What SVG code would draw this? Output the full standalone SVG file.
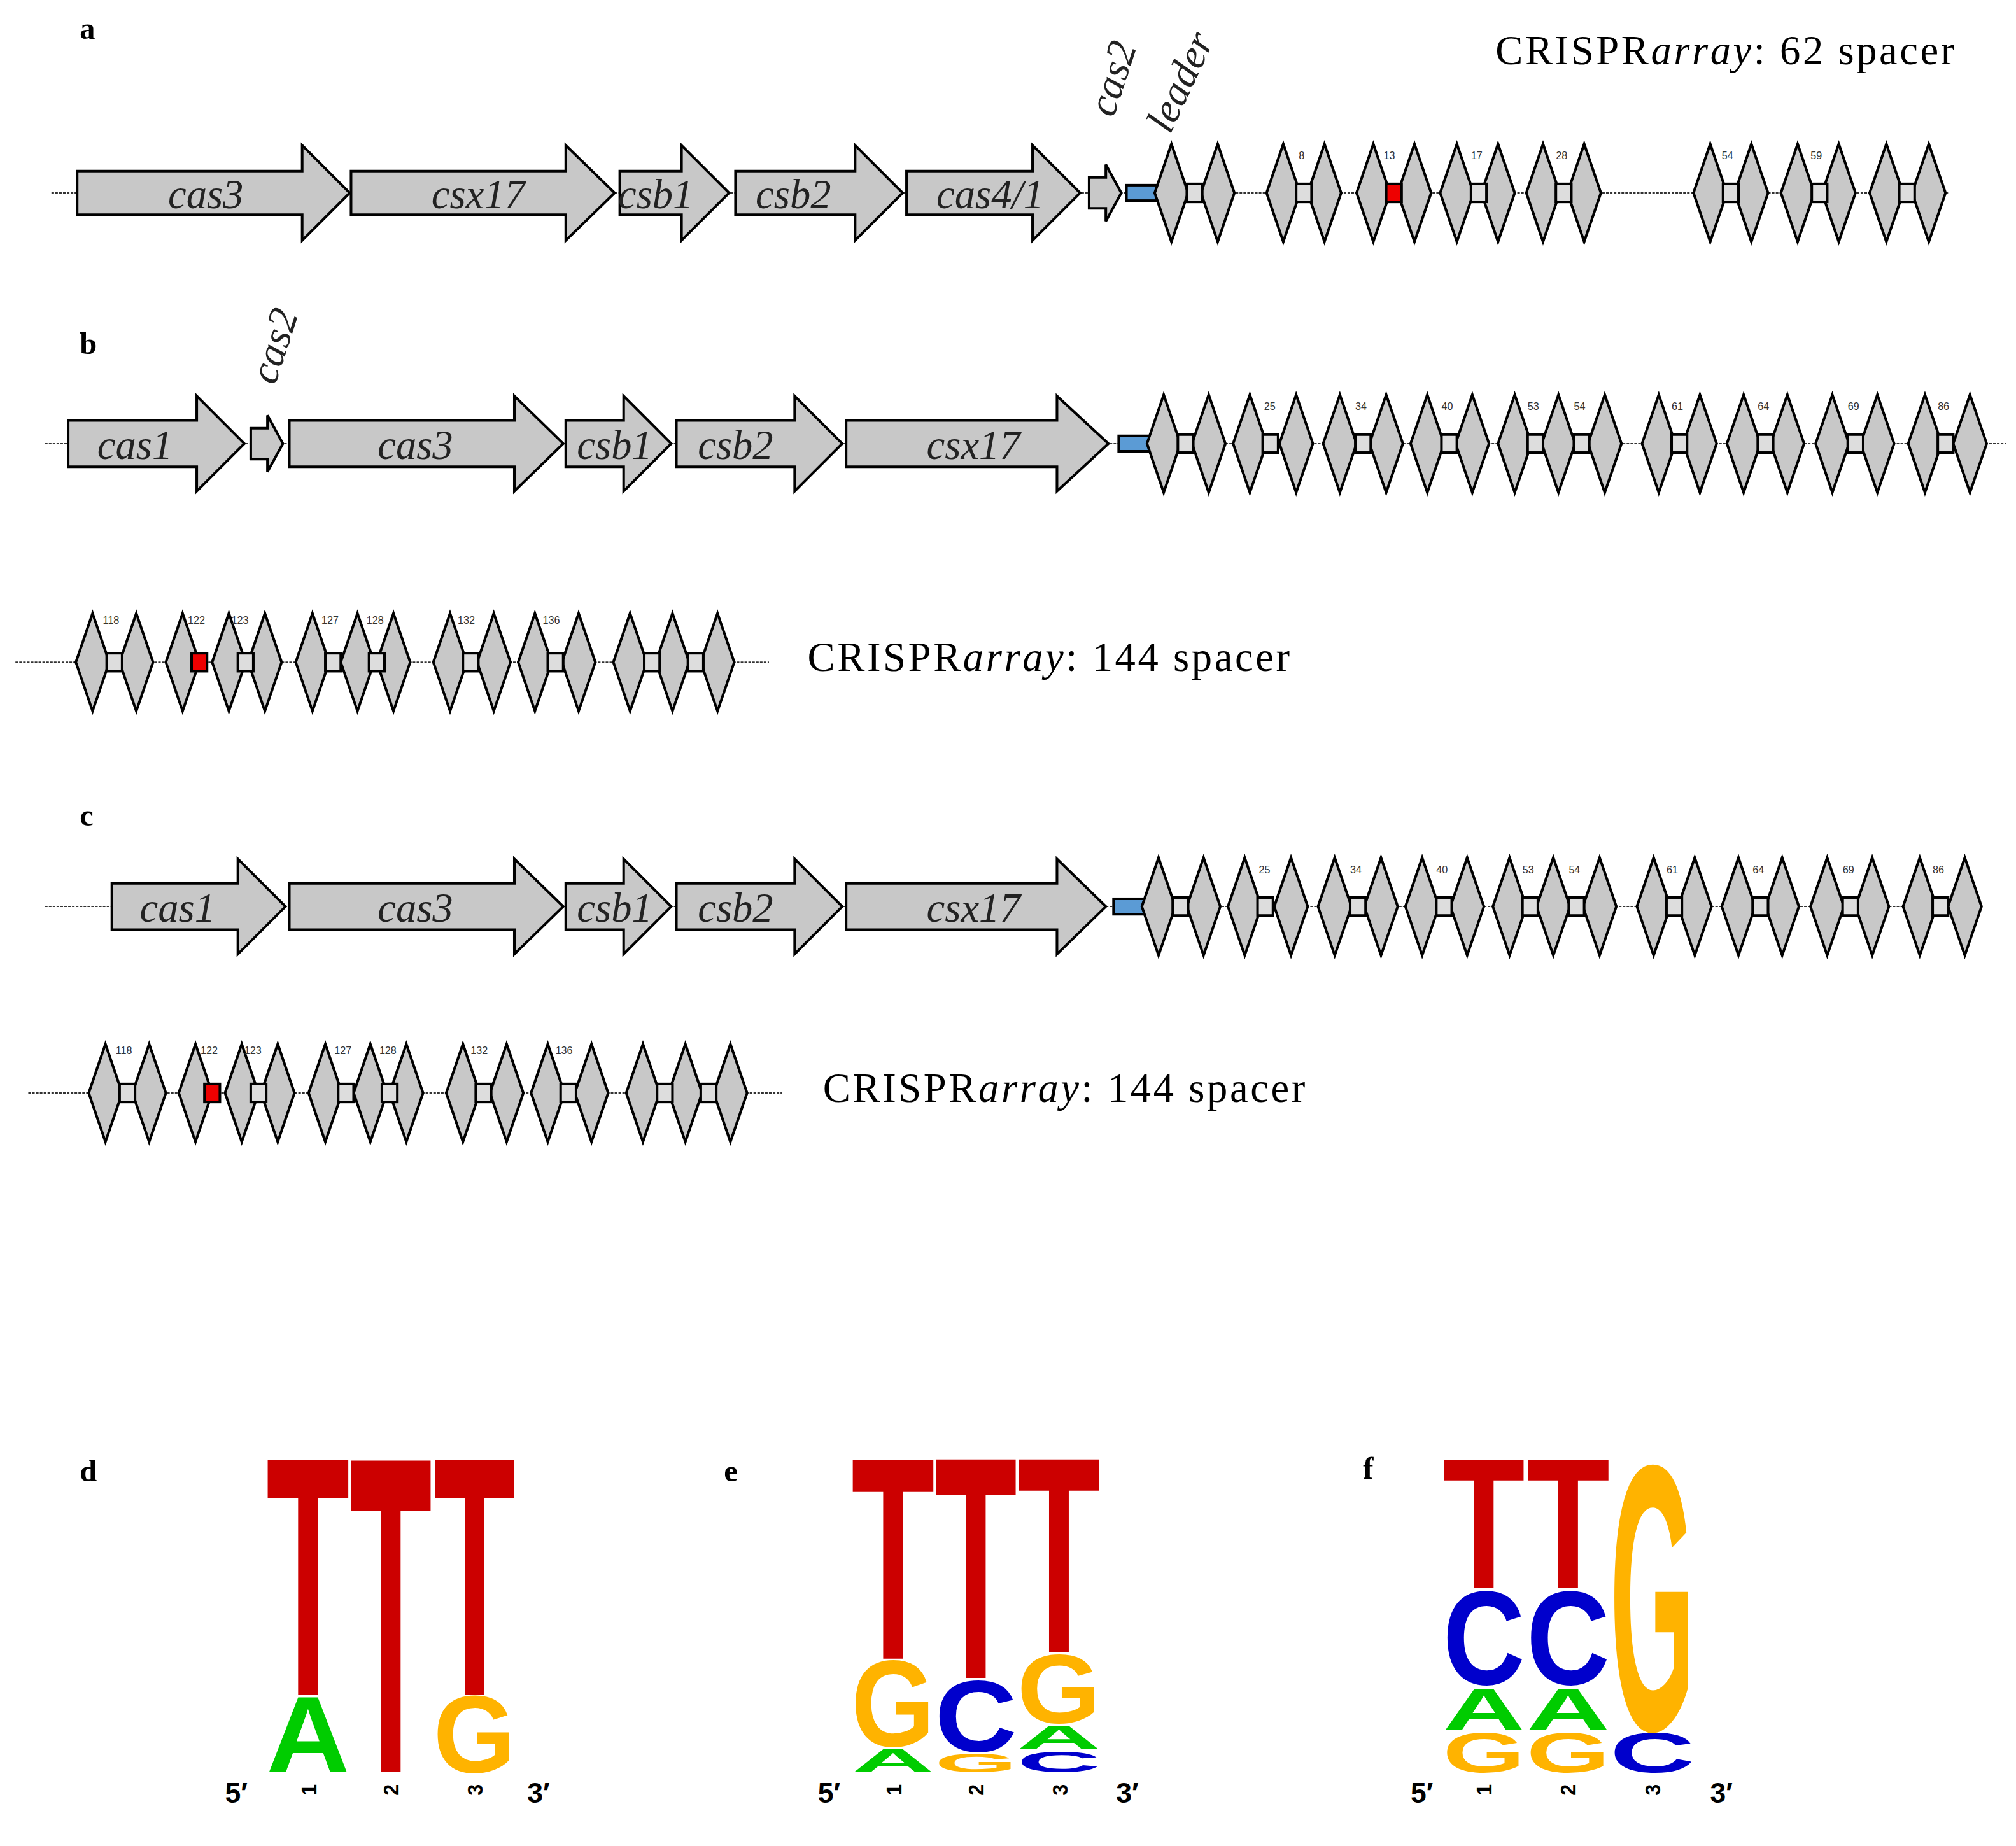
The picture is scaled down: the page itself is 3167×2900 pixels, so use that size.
<svg xmlns="http://www.w3.org/2000/svg" xmlns:xlink="http://www.w3.org/1999/xlink" width="3167" height="2900" viewBox="0 0 3167 2900">
<style>
.g{fill:#c8c8c8;stroke:#000;stroke-width:2}
.gl{font-family:"Liberation Serif",serif;font-style:italic;font-size:32px;text-anchor:middle;fill:#222}
.pl{font-family:"Liberation Serif",serif;font-weight:bold;font-size:24px}
.ct{font-family:"Liberation Serif",serif;font-size:32px}
.n{font-family:"Liberation Sans",sans-serif;font-size:8px;fill:#333}
.dl{stroke:#333;stroke-width:1;stroke-dasharray:2 1}
.sp{fill:#ddd;stroke:#000;stroke-width:2}
.lg{font-family:"Liberation Sans",sans-serif;font-weight:bold;font-size:100px}
.ax{font-family:"Liberation Sans",sans-serif;font-weight:bold;font-size:22px}
.ps{font-family:"Liberation Sans",sans-serif;font-weight:bold;font-size:16px}
</style>
<defs>
<polygon id="r" points="0,-38 13,0 0,38 -13,0" class="g"/>
</defs>
<rect width="3167" height="2900" fill="#fff"/>
<g transform="scale(2.02)">
<g id="connectors">
<line class="dl" x1="40" y1="150" x2="1515" y2="150"/>
<line class="dl" x1="35" y1="345" x2="1560" y2="345"/>
<line class="dl" x1="12" y1="515" x2="598" y2="515"/>
<line class="dl" x1="35" y1="705" x2="1540" y2="705"/>
<line class="dl" x1="22" y1="850" x2="608" y2="850"/>
</g>
<g id="panel-a">
<text class="pl" x="62" y="30">a</text>
<polygon class="g" points="60,133 235,133 235,113 272,150 235,187 235,167 60,167"/><text class="gl" x="160" y="162">cas3</text>
<polygon class="g" points="273,133 440,133 440,113 478,150 440,187 440,167 273,167"/><text class="gl" x="372" y="162">csx17</text>
<polygon class="g" points="482,133 530,133 530,113 567,150 530,187 530,167 482,167"/><text class="gl" x="510" y="162">csb1</text>
<polygon class="g" points="572,133 665,133 665,113 702,150 665,187 665,167 572,167"/><text class="gl" x="617" y="162">csb2</text>
<polygon class="g" points="705,133 803,133 803,113 840,150 803,187 803,167 705,167"/><text class="gl" x="770" y="162">cas4/1</text>
<polygon class="g" points="847,138 860,138 860,128 872,150 860,172 860,162 847,162"/>
<text class="gl" transform="translate(866,92) rotate(-72)" style="text-anchor:start">cas2</text>
<text class="gl" transform="translate(910,105) rotate(-65)" style="text-anchor:start">leader</text>
<rect x="876" y="144" width="24" height="12" fill="#5b9bd5" stroke="#000" stroke-width="2"/>
<text class="ct" x="1163" y="50" textLength="357">CRISPR<tspan font-style="italic">array</tspan>: 62 spacer</text>
<g transform="translate(0,150)">
<use href="#r" x="911"/><use href="#r" x="947"/><rect class="sp" x="923" y="-7" width="12" height="14"/>
<use href="#r" x="998"/><use href="#r" x="1030"/><rect class="sp" x="1008" y="-7" width="12" height="14"/><text class="n" x="1010" y="-26">8</text>
<use href="#r" x="1068"/><use href="#r" x="1100"/><rect x="1078" y="-7" width="12" height="14" fill="#e00" stroke="#000" stroke-width="2"/><text class="n" x="1076" y="-26">13</text>
<use href="#r" x="1133"/><use href="#r" x="1165"/><rect class="sp" x="1144" y="-7" width="12" height="14"/><text class="n" x="1144" y="-26">17</text>
<use href="#r" x="1200"/><use href="#r" x="1232"/><rect class="sp" x="1210" y="-7" width="12" height="14"/><text class="n" x="1210" y="-26">28</text>
<use href="#r" x="1330"/><use href="#r" x="1362"/><rect class="sp" x="1340" y="-7" width="12" height="14"/><text class="n" x="1339" y="-26">54</text>
<use href="#r" x="1398"/><use href="#r" x="1430"/><rect class="sp" x="1409" y="-7" width="12" height="14"/><text class="n" x="1408" y="-26">59</text>
<use href="#r" x="1467"/><use href="#r" x="1500"/><rect class="sp" x="1477" y="-7" width="12" height="14"/>
</g>
</g>
<g id="panel-b">
<text class="pl" x="62" y="275">b</text>
<polygon class="g" points="53,327 153,327 153,308 190,345 153,382 153,363 53,363"/><text class="gl" x="105" y="357">cas1</text>
<polygon class="g" points="195,333 208,333 208,323 220,345 208,367 208,357 195,357"/>
<text class="gl" transform="translate(214,300) rotate(-72)" style="text-anchor:start">cas2</text>
<polygon class="g" points="225,327 400,327 400,308 438,345 400,382 400,363 225,363"/><text class="gl" x="323" y="357">cas3</text>
<polygon class="g" points="440,327 485,327 485,308 522,345 485,382 485,363 440,363"/><text class="gl" x="478" y="357">csb1</text>
<polygon class="g" points="526,327 618,327 618,308 655,345 618,382 618,363 526,363"/><text class="gl" x="572" y="357">csb2</text>
<polygon class="g" points="658,327 822,327 822,308 862,345 822,382 822,363 658,363"/><text class="gl" x="757" y="357">csx17</text>
<rect x="870" y="339" width="24" height="12" fill="#5b9bd5" stroke="#000" stroke-width="2"/>
<g id="b-arr1" transform="translate(0,345)">
<use href="#r" x="905"/><use href="#r" x="940"/><rect class="sp" x="916" y="-7" width="12" height="14"/>
<use href="#r" x="972"/><use href="#r" x="1008"/><rect class="sp" x="982" y="-7" width="12" height="14"/><text class="n" x="983" y="-26">25</text>
<use href="#r" x="1042"/><use href="#r" x="1078"/><rect class="sp" x="1054" y="-7" width="12" height="14"/><text class="n" x="1054" y="-26">34</text>
<use href="#r" x="1110"/><use href="#r" x="1145"/><rect class="sp" x="1121" y="-7" width="12" height="14"/><text class="n" x="1121" y="-26">40</text>
<use href="#r" x="1178"/><use href="#r" x="1212"/><use href="#r" x="1248"/><rect class="sp" x="1188" y="-7" width="12" height="14"/><rect class="sp" x="1224" y="-7" width="12" height="14"/><text class="n" x="1188" y="-26">53</text><text class="n" x="1224" y="-26">54</text>
<use href="#r" x="1290"/><use href="#r" x="1322"/><rect class="sp" x="1300" y="-7" width="12" height="14"/><text class="n" x="1300" y="-26">61</text>
<use href="#r" x="1356"/><use href="#r" x="1390"/><rect class="sp" x="1367" y="-7" width="12" height="14"/><text class="n" x="1367" y="-26">64</text>
<use href="#r" x="1425"/><use href="#r" x="1460"/><rect class="sp" x="1437" y="-7" width="12" height="14"/><text class="n" x="1437" y="-26">69</text>
<use href="#r" x="1497"/><use href="#r" x="1532"/><rect class="sp" x="1507" y="-7" width="12" height="14"/><text class="n" x="1507" y="-26">86</text>
</g>
<g id="b-arr2" transform="translate(0,515)">
<use href="#r" x="72"/><use href="#r" x="106"/><rect class="sp" x="83" y="-7" width="12" height="14"/><text class="n" x="80" y="-30">118</text>
<use href="#r" x="142"/><use href="#r" x="178"/><use href="#r" x="206"/><rect x="149" y="-7" width="12" height="14" fill="#e00" stroke="#000" stroke-width="2"/><rect class="sp" x="185" y="-7" width="12" height="14"/><text class="n" x="146" y="-30">122</text><text class="n" x="180" y="-30">123</text>
<use href="#r" x="243"/><use href="#r" x="278"/><use href="#r" x="306"/><rect class="sp" x="253" y="-7" width="12" height="14"/><rect class="sp" x="287" y="-7" width="12" height="14"/><text class="n" x="250" y="-30">127</text><text class="n" x="285" y="-30">128</text>
<use href="#r" x="350"/><use href="#r" x="384"/><rect class="sp" x="360" y="-7" width="12" height="14"/><text class="n" x="356" y="-30">132</text>
<use href="#r" x="416"/><use href="#r" x="450"/><rect class="sp" x="426" y="-7" width="12" height="14"/><text class="n" x="422" y="-30">136</text>
<use href="#r" x="490"/><use href="#r" x="523"/><use href="#r" x="558"/><rect class="sp" x="501" y="-7" width="12" height="14"/><rect class="sp" x="535" y="-7" width="12" height="14"/>
</g>
<text class="ct" x="628" y="522" textLength="375">CRISPR<tspan font-style="italic">array</tspan>: 144 spacer</text>
</g>
<g id="panel-c">
<text class="pl" x="62" y="642">c</text>
<polygon class="g" points="87,687 185,687 185,668 222,705 185,742 185,723 87,723"/><text class="gl" x="138" y="717">cas1</text>
<polygon class="g" points="225,687 400,687 400,668 438,705 400,742 400,723 225,723"/><text class="gl" x="323" y="717">cas3</text>
<polygon class="g" points="440,687 485,687 485,668 522,705 485,742 485,723 440,723"/><text class="gl" x="478" y="717">csb1</text>
<polygon class="g" points="526,687 618,687 618,668 655,705 618,742 618,723 526,723"/><text class="gl" x="572" y="717">csb2</text>
<polygon class="g" points="658,687 822,687 822,668 860,705 822,742 822,723 658,723"/><text class="gl" x="757" y="717">csx17</text>
<rect x="866" y="699" width="24" height="12" fill="#5b9bd5" stroke="#000" stroke-width="2"/>
<g transform="translate(-4,360)"><use href="#b-arr1"/></g>
<g transform="translate(10,335)"><use href="#b-arr2"/></g>
<text class="ct" x="640" y="857" textLength="375">CRISPR<tspan font-style="italic">array</tspan>: 144 spacer</text>
</g>
<g id="logo-d">
<text class="pl" x="62" y="1152">d</text>
<text class="lg" fill="#cc0000" textLength="100" lengthAdjust="spacingAndGlyphs" transform="translate(207,1318) scale(0.65,2.65)">T</text>
<text class="lg" fill="#00cc00" textLength="100" lengthAdjust="spacingAndGlyphs" transform="translate(207,1378) scale(0.65,0.85)">A</text>
<text class="lg" fill="#cc0000" textLength="100" lengthAdjust="spacingAndGlyphs" transform="translate(272,1378) scale(0.64,3.52)">T</text>
<text class="lg" fill="#cc0000" textLength="100" lengthAdjust="spacingAndGlyphs" transform="translate(337,1318) scale(0.64,2.65)">T</text>
<text class="lg" fill="#ffb300" textLength="100" lengthAdjust="spacingAndGlyphs" transform="translate(337,1378) scale(0.64,0.85)">G</text>
<text class="ps" transform="translate(246,1392) rotate(-90)" text-anchor="middle">1</text>
<text class="ps" transform="translate(310,1392) rotate(-90)" text-anchor="middle">2</text>
<text class="ps" transform="translate(375,1392) rotate(-90)" text-anchor="middle">3</text>
<text class="ax" x="175" y="1402">5′</text><text class="ax" x="410" y="1402">3′</text>
</g>
<g id="logo-e">
<text class="pl" x="563" y="1152">e</text>
<text class="lg" fill="#cc0000" textLength="100" lengthAdjust="spacingAndGlyphs" transform="translate(662,1290) scale(0.65,2.25)">T</text>
<text class="lg" fill="#ffb300" textLength="100" lengthAdjust="spacingAndGlyphs" transform="translate(662,1358) scale(0.65,0.96)">G</text>
<text class="lg" fill="#00cc00" textLength="100" lengthAdjust="spacingAndGlyphs" transform="translate(662,1378) scale(0.65,0.26)">A</text>
<text class="lg" fill="#cc0000" textLength="100" lengthAdjust="spacingAndGlyphs" transform="translate(727,1305) scale(0.64,2.47)">T</text>
<text class="lg" fill="#0000cc" textLength="100" lengthAdjust="spacingAndGlyphs" transform="translate(727,1362) scale(0.64,0.79)">C</text>
<text class="lg" fill="#ffb300" textLength="100" lengthAdjust="spacingAndGlyphs" transform="translate(727,1378) scale(0.64,0.21)">G</text>
<text class="lg" fill="#cc0000" textLength="100" lengthAdjust="spacingAndGlyphs" transform="translate(791,1285) scale(0.65,2.18)">T</text>
<text class="lg" fill="#ffb300" textLength="100" lengthAdjust="spacingAndGlyphs" transform="translate(791,1340) scale(0.65,0.76)">G</text>
<text class="lg" fill="#00cc00" textLength="100" lengthAdjust="spacingAndGlyphs" transform="translate(791,1360) scale(0.65,0.26)">A</text>
<text class="lg" fill="#0000cc" textLength="100" lengthAdjust="spacingAndGlyphs" transform="translate(791,1378) scale(0.65,0.23)">C</text>
<text class="ps" transform="translate(701,1392) rotate(-90)" text-anchor="middle">1</text>
<text class="ps" transform="translate(765,1392) rotate(-90)" text-anchor="middle">2</text>
<text class="ps" transform="translate(830,1392) rotate(-90)" text-anchor="middle">3</text>
<text class="ax" x="636" y="1402">5′</text><text class="ax" x="868" y="1402">3′</text>
</g>
<g id="logo-f">
<text class="pl" x="1060" y="1150">f</text>
<text class="lg" fill="#cc0000" textLength="100" lengthAdjust="spacingAndGlyphs" transform="translate(1122,1235) scale(0.64,1.45)">T</text>
<text class="lg" fill="#0000cc" textLength="100" lengthAdjust="spacingAndGlyphs" transform="translate(1122,1310) scale(0.64,1.04)">C</text>
<text class="lg" fill="#00cc00" textLength="100" lengthAdjust="spacingAndGlyphs" transform="translate(1122,1345) scale(0.64,0.46)">A</text>
<text class="lg" fill="#ffb300" textLength="100" lengthAdjust="spacingAndGlyphs" transform="translate(1122,1378) scale(0.64,0.44)">G</text>
<text class="lg" fill="#cc0000" textLength="100" lengthAdjust="spacingAndGlyphs" transform="translate(1187,1235) scale(0.65,1.45)">T</text>
<text class="lg" fill="#0000cc" textLength="100" lengthAdjust="spacingAndGlyphs" transform="translate(1187,1310) scale(0.65,1.04)">C</text>
<text class="lg" fill="#00cc00" textLength="100" lengthAdjust="spacingAndGlyphs" transform="translate(1187,1345) scale(0.65,0.46)">A</text>
<text class="lg" fill="#ffb300" textLength="100" lengthAdjust="spacingAndGlyphs" transform="translate(1187,1378) scale(0.65,0.44)">G</text>
<text class="lg" fill="#ffb300" textLength="100" lengthAdjust="spacingAndGlyphs" transform="translate(1252,1345) scale(0.66,2.95)">G</text>
<text class="lg" fill="#0000cc" textLength="100" lengthAdjust="spacingAndGlyphs" transform="translate(1252,1378) scale(0.66,0.44)">C</text>
<text class="ps" transform="translate(1160,1392) rotate(-90)" text-anchor="middle">1</text>
<text class="ps" transform="translate(1225,1392) rotate(-90)" text-anchor="middle">2</text>
<text class="ps" transform="translate(1291,1392) rotate(-90)" text-anchor="middle">3</text>
<text class="ax" x="1097" y="1402">5′</text><text class="ax" x="1330" y="1402">3′</text>
</g>
</g>
</svg>
